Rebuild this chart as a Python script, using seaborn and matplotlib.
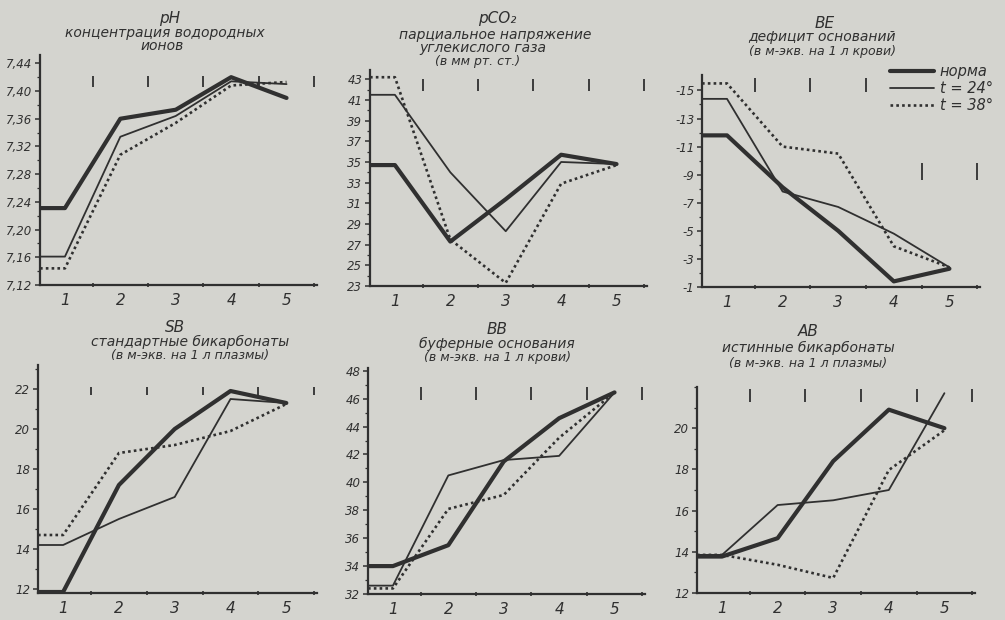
import numpy as np
import pandas as pd
import matplotlib
matplotlib.use("Agg")
import matplotlib.pyplot as plt
import seaborn as sns
from matplotlib.ticker import FixedLocator

# ---------------- data ----------------
stages = [1, 2, 3, 4, 5]
stage_labels = ["1", "2", "3", "4", "5"]
series_names = ["норма", "t = 24°", "t = 38°"]

# pH
ph_norma = [7.231, 7.360, 7.373, 7.420, 7.390]
ph_t24 = [7.161, 7.334, 7.364, 7.414, 7.410]
ph_t38 = [7.144, 7.308, 7.354, 7.408, 7.413]
ph_ticks = [7.12, 7.16, 7.20, 7.24, 7.28, 7.32, 7.36, 7.40, 7.44]
ph_ticklabels = ["7,12", "7,16", "7,20", "7,24", "7,28", "7,32", "7,36", "7,40", "7,44"]

# pCO2
pco2_norma = [34.7, 27.3, 31.4, 35.7, 34.8]
pco2_t24 = [41.5, 34.0, 28.3, 35.0, 34.8]
pco2_t38 = [43.2, 27.5, 23.3, 32.9, 34.7]
pco2_ticks = [23, 25, 27, 29, 31, 33, 35, 37, 39, 41, 43]
pco2_ticklabels = ["23", "25", "27", "29", "31", "33", "35", "37", "39", "41", "43"]

# BE
be_norma = [-11.8, -8.1, -5.0, -1.4, -2.3]
be_t24 = [-14.4, -7.8, -6.7, -4.8, -2.4]
be_t38 = [-15.5, -11.0, -10.5, -3.9, -2.4]
be_ticks = [-1, -3, -5, -7, -9, -11, -13, -15]
be_ticklabels = ["-1", "-3", "-5", "-7", "-9", "-11", "-13", "-15"]

# SB
sb_norma = [11.85, 17.2, 20.0, 21.9, 21.3]
sb_t24 = [14.2, 15.5, 16.6, 21.5, 21.3]
sb_t38 = [14.7, 18.8, 19.2, 19.9, 21.25]
sb_ticks = [12, 14, 16, 18, 20, 22]
sb_ticklabels = ["12", "14", "16", "18", "20", "22"]

# BB
bb_norma = [34.0, 35.5, 41.5, 44.6, 46.45]
bb_t24 = [32.6, 40.5, 41.6, 41.9, 46.45]
bb_t38 = [32.4, 38.1, 39.1, 43.2, 46.45]
bb_ticks = [32, 34, 36, 38, 40, 42, 44, 46, 48]
bb_ticklabels = ["32", "34", "36", "38", "40", "42", "44", "46", "48"]

# AB
ab_norma = [13.77, 14.66, 18.4, 20.9, 20.0]
ab_t24 = [13.85, 16.27, 16.5, 17.0, 21.7]
ab_t38 = [13.85, 13.37, 12.73, 17.97, 19.9]
ab_ticks = [12, 14, 16, 18, 20]
ab_ticklabels = ["12", "14", "16", "18", "20"]

# ---------------- style ----------------
BG = "#d4d4cf"
INK = "#303030"
W, H = 1005, 620

sns.set_theme(style="ticks")
plt.rcParams["font.family"] = ["DejaVu Sans"]
plt.rcParams["axes.edgecolor"] = INK
plt.rcParams["text.color"] = INK
plt.rcParams["xtick.color"] = INK
plt.rcParams["ytick.color"] = INK

line_styles = [
    dict(lw=3.0, ls="-"),
    dict(lw=1.3, ls="-"),
    dict(lw=1.9, ls=(0, (1.0, 1.2))),
]

X_END = 5.55
X_START = 0.55
sep_x = [1.5, 2.5, 3.5, 4.5, 5.5]

T1, T2, T3 = 11, 10, 9


def px_rect(left, right, top, bottom):
    return [left / W, 1 - bottom / H, (right - left) / W, (bottom - top) / H]


panels = [
    dict(rect=px_rect(40, 317, 55, 285), ylim=(7.12, 7.452),
         ticks=ph_ticks, labels=ph_ticklabels, minor=0.02,
         data=[ph_norma, ph_t24, ph_t38],
         marks=[(0.86, 0.91)] * 5,
         title=[("pH", 170, 19, T1), ("концентрация водородных", 165, 33, T2), ("ионов", 162, 46, T2)]),
    dict(rect=px_rect(370, 647, 70, 286), ylim=(23, 43.9),
         ticks=pco2_ticks, labels=pco2_ticklabels, minor=1,
         data=[pco2_norma, pco2_t24, pco2_t38],
         marks=[(0.905, 0.96)] * 5,
         title=[("pCO₂", 497, 19, T1), ("парциальное напряжение", 495, 35, T2),
                ("углекислого газа", 483, 48, T2), ("(в мм рт. ст.)", 478, 61, T3)]),
    dict(rect=px_rect(702, 980, 75, 287), ylim=(-1, -16.1),
         ticks=be_ticks, labels=be_ticklabels, minor=1,
         data=[be_norma, be_t24, be_t38],
         marks=[(0.92, 0.985)] * 3 + [(0.505, 0.585)] * 2,
         title=[("BE", 825, 23, T1), ("дефицит оснований", 822, 37, T2),
                ("(в м-экв. на 1 л крови)", 822, 51, T3)]),
    dict(rect=px_rect(38, 317, 365, 593), ylim=(11.8, 23.2),
         ticks=sb_ticks, labels=sb_ticklabels, minor=1,
         data=[sb_norma, sb_t24, sb_t38],
         marks=[(0.87, 0.905)] * 5,
         title=[("SB", 175, 327, T1), ("стандартные бикарбонаты", 190, 342, T2),
                ("(в м-экв. на 1 л плазмы)", 190, 356, T3)]),
    dict(rect=px_rect(368, 645, 368, 594), ylim=(32, 48.2),
         ticks=bb_ticks, labels=bb_ticklabels, minor=1,
         data=[bb_norma, bb_t24, bb_t38],
         marks=[(0.86, 0.915)] * 5,
         title=[("BB", 497, 329, T1), ("буферные основания", 497, 344, T2),
                ("(в м-экв. на 1 л крови)", 497, 358, T3)]),
    dict(rect=px_rect(697, 975, 387, 593), ylim=(12, 22),
         ticks=ab_ticks, labels=ab_ticklabels, minor=1,
         data=[ab_norma, ab_t24, ab_t38],
         marks=[(0.925, 0.99)] * 5,
         title=[("AB", 808, 332, T1), ("истинные бикарбонаты", 808, 348, T2),
                ("(в м-экв. на 1 л плазмы)", 808, 363, T3)]),
]

fig = plt.figure(figsize=(W / 100, H / 100), dpi=100)
fig.patch.set_facecolor(BG)

legend_ax = None
for i, p in enumerate(panels):
    ax = fig.add_axes(p["rect"])
    ax.set_facecolor(BG)
    for name, vals, st in zip(series_names, p["data"], line_styles):
        df = pd.DataFrame({"stage": [X_START] + stages, "value": [vals[0]] + vals})
        sns.lineplot(data=df, x="stage", y="value", ax=ax, color=INK,
                     lw=st["lw"], linestyle=st["ls"], legend=False,
                     estimator=None, sort=False)
    ax.set_xlim(X_START, X_END)
    ax.set_ylim(*p["ylim"])
    ax.set_xlabel("")
    ax.set_ylabel("")
    for s in ["top", "right"]:
        ax.spines[s].set_visible(False)
    for s in ["left", "bottom"]:
        ax.spines[s].set_linewidth(1.6)
        ax.spines[s].set_color(INK)
    ax.set_xticks(stages)
    ax.set_xticklabels(stage_labels, fontsize=11, style="italic")
    ax.xaxis.set_minor_locator(FixedLocator(sep_x))
    ax.tick_params(axis="x", which="major", length=0, pad=6)
    ax.tick_params(axis="x", which="minor", length=3, width=1.2, direction="inout")
    ax.set_yticks(p["ticks"])
    ax.set_yticklabels(p["labels"], fontsize=8.5, style="italic")
    lo, hi = sorted(p["ylim"])
    minor = np.arange(min(p["ticks"]), hi + 1e-9, p["minor"])
    ax.yaxis.set_minor_locator(FixedLocator(minor))
    ax.tick_params(axis="y", which="major", length=3.5, width=1.1, pad=2)
    ax.tick_params(axis="y", which="minor", length=2, width=0.9)
    # separator strokes at the top of each panel
    trans = ax.get_xaxis_transform()
    for xm, (f0, f1) in zip(sep_x, p["marks"]):
        ax.plot([xm, xm], [f0, f1], transform=trans, color=INK, lw=1.3,
                clip_on=False, solid_capstyle="butt")
    for txt, cx, cy, fs in p["title"]:
        fig.text(cx / W, 1 - cy / H, txt, ha="center", va="center",
                 fontsize=fs, style="italic", color=INK)
    if i == 2:
        legend_ax = ax

handles = legend_ax.lines[:3]
fig.legend(handles, series_names, loc="upper left",
           bbox_to_anchor=(890 / W, 1 - 64 / H), frameon=False,
           handlelength=3.0, handletextpad=0.4, labelspacing=0.15,
           borderpad=0, borderaxespad=0,
           prop={"size": 10.5, "style": "italic"})

fig.savefig("out.png", dpi=100, facecolor=BG)
